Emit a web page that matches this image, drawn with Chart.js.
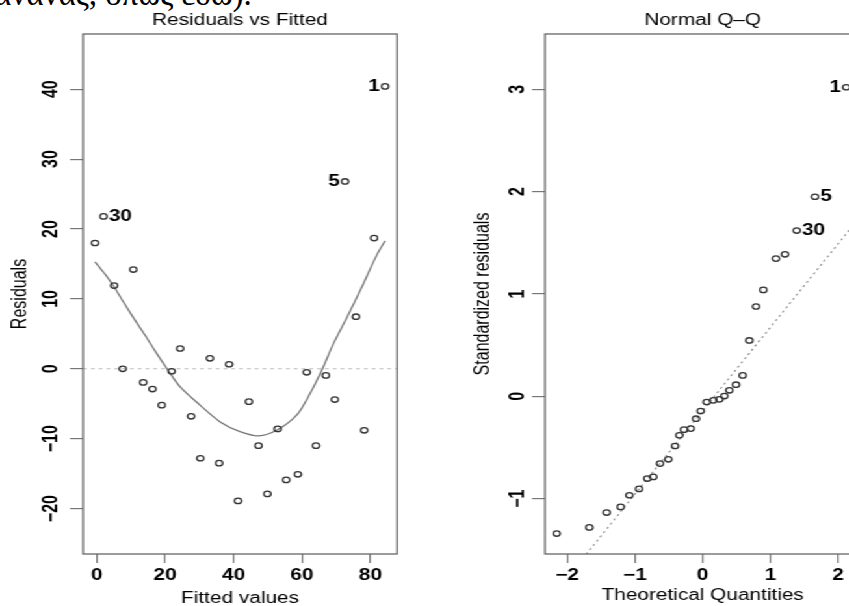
<!DOCTYPE html>
<html>
<head>
<meta charset="utf-8">
<script src="https://cdn.jsdelivr.net/npm/chart.js@4/dist/chart.umd.min.js"></script>
<style>
  html, body { margin: 0; padding: 0; background: #fff; }
  body { width: 849px; height: 606px; overflow: hidden; position: relative; }
  #caption {
    position: absolute; left: -6px; top: -22px;
    font: 33px/32px "Liberation Serif", "DejaVu Serif", serif; color: #000; white-space: nowrap;
  }
  /* the figure is printed wider than tall, so the whole plot is stretched sideways */
  #stage { position: absolute; left: 0; top: 0; width: 680px; height: 620px; transform: scaleX(1.3); transform-origin: 0 0; }
  #stage canvas { position: absolute; top: 0; }
</style>
</head>
<body>
<div id="caption">ανανας, όπως εδώ).</div>
<div id="stage">
  <canvas id="residChart" width="330" height="620" style="left:0"></canvas>
  <canvas id="qqChart" width="320" height="620" style="left:360px"></canvas>
</div>
<script>
// Residuals vs Fitted (sorted by fitted value)
const fittedValues = [-0.5, 2.0, 5.1, 7.6, 10.7, 13.6, 16.3, 19.0, 21.9, 24.4, 27.6, 30.3, 33.1, 35.8, 38.7, 41.3,
  44.5, 47.3, 49.9, 52.9, 55.4, 58.8, 61.4, 64.1, 67.0, 69.6, 72.6, 75.8, 78.2, 81.1, 84.3];
const residualValues = [18.0, 21.8, 11.9, 0.0, 14.2, -1.95, -2.9, -5.2, -0.35, 2.9, -6.8, -12.8, 1.5, -13.5, 0.65, -18.9,
  -4.7, -11.0, -17.9, -8.6, -15.9, -15.1, -0.5, -11.0, -0.95, -4.4, 26.8, 7.45, -8.8, 18.7, 40.4];
// smoother through the residuals
const smoothFitted = [-0.5, 2.5, 5.1, 8.0, 11.0, 14.0, 17.0, 20.5, 24.4, 30.2, 36.1, 41.9, 47.3, 52.6, 58.5, 62.4, 65.8,
  69.2, 73.1, 77.5, 81.9, 84.3];
const smoothResid = [15.3, 13.5, 11.7, 9.4, 7.1, 4.9, 2.6, 0.05, -2.6, -5.2, -7.6, -9.0, -9.6, -8.8, -6.6, -3.5, -0.2,
  3.6, 7.3, 11.7, 16.3, 18.3];
const residTagged = [[30, '1', 'left'], [26, '5', 'left'], [1, '30', 'right']];
const residTicksX = [0, 20, 40, 60, 80];
const residTicksY = [-20, -10, 0, 10, 20, 30, 40];
const residRangeX = [-4.0, 87.8];
const residRangeY = [-26.5, 47.9];

// Normal Q-Q
const theoreticalQ = [-2.157, -1.674, -1.418, -1.211, -1.083, -0.940, -0.817, -0.729, -0.630, -0.507, -0.409, -0.345,
  -0.276, -0.177, -0.098, -0.030, 0.059, 0.158, 0.246, 0.320, 0.394, 0.492, 0.591, 0.689, 0.788, 0.896, 1.083,
  1.216, 1.389, 1.659, 2.12];
const standardizedResid = [-1.34, -1.28, -1.135, -1.08, -0.966, -0.904, -0.803, -0.787, -0.657, -0.615, -0.485, -0.380,
  -0.325, -0.315, -0.218, -0.143, -0.055, -0.039, -0.029, 0.003, 0.059, 0.114, 0.205, 0.546, 0.878, 1.04, 1.346,
  1.388, 1.62, 1.95, 3.02];
const qqLineIntercept = -0.14;
const qqLineSlope = 0.815;
const qqTagged = [[30, '1', 'left'], [29, '5', 'right'], [28, '30', 'right']];
const qqTicksX = [-2, -1, 0, 1, 2];
const qqTicksY = [-1, 0, 1, 2, 3];
const qqRangeX = [-2.33, 2.33];
const qqRangeY = [-1.54, 3.54];

Chart.defaults.font.family = '"Liberation Sans", Arial, Helvetica, sans-serif';
Chart.defaults.color = '#000';

/**
 * Draws the frame around the plotting region
 */
const plotBox = {
    id: 'plotBox',
    afterDraw(chart) {
        const { ctx, chartArea: a } = chart;
        ctx.save();
        ctx.strokeStyle = '#666';
        ctx.lineWidth = 1.3;
        ctx.strokeRect(a.left, a.top, a.right - a.left, a.bottom - a.top);
        ctx.restore();
    }
};

/**
 * Writes observation numbers beside the flagged points
 */
function pointTags(tags) {
    return {
        id: 'pointTags',
        afterDatasetsDraw(chart) {
            const meta = chart.getDatasetMeta(0);
            const ctx = chart.ctx;
            ctx.save();
            ctx.font = 'bold 16px "Liberation Sans", Arial, sans-serif';
            ctx.fillStyle = '#000';
            ctx.textBaseline = 'middle';
            tags.forEach(([idx, text, side]) => {
                const el = meta.data[idx];
                ctx.textAlign = side === 'left' ? 'right' : 'left';
                ctx.fillText(text, el.x + (side === 'left' ? -4 : 4), el.y);
            });
            ctx.restore();
        }
    };
}

const minus = v => String(v).replace('-', '\u2212');

function axis(range, ticks, title, opts) {
    return {
        type: 'linear',
        min: range[0],
        max: range[1],
        afterBuildTicks: s => { s.ticks = ticks.map(v => ({ value: v })); },
        afterFit: s => {
            if (opts.width !== undefined) s.width = opts.width;
            if (opts.height !== undefined) s.height = opts.height;
        },
        border: { display: false },
        grid: { drawOnChartArea: false, drawTicks: true, tickLength: opts.tickLength, color: '#777', lineWidth: 1.2 },
        ticks: {
            autoSkip: false,
            font: { size: 16, weight: 'bold' },
            padding: opts.tickPad,
            minRotation: opts.rotate ? 90 : 0,
            maxRotation: opts.rotate ? 90 : 0,
            crossAlign: opts.rotate ? 'center' : 'near',
            callback: v => minus(v)
        },
        title: { display: true, text: title, font: { size: 16 }, padding: opts.titlePad }
    };
}

function pointSet(xs, ys) {
    return xs.map((x, i) => ({ x: x, y: ys[i] }));
}

function baseOptions(titleText, padRight, scales) {
    return {
        responsive: false,
        animation: false,
        events: [],
        layout: { padding: { left: 0, right: padRight, top: 0, bottom: 0 } },
        plugins: {
            legend: { display: false },
            tooltip: { enabled: false },
            title: {
                display: true, text: titleText, fullSize: false,
                font: { size: 16, weight: 'normal' }, color: '#000',
                padding: { top: 11.4, bottom: 3.4 }
            }
        },
        scales: scales
    };
}

// Residuals vs Fitted
new Chart(document.getElementById('residChart'), {
    type: 'scatter',
    data: {
        datasets: [
            {
                data: pointSet(fittedValues, residualValues),
                pointStyle: 'circle', pointRadius: 2.7, borderWidth: 1.3,
                borderColor: '#333', backgroundColor: 'rgba(0,0,0,0)'
            },
            {
                data: pointSet(smoothFitted, smoothResid),
                showLine: true, pointRadius: 0, borderColor: '#777', borderWidth: 1.3, tension: 0.3
            },
            {
                data: pointSet(residRangeX, [0, 0]),
                showLine: true, pointRadius: 0, borderColor: '#bbb', borderWidth: 1, borderDash: [3, 3]
            }
        ]
    },
    options: baseOptions('Residuals vs Fitted', 24.6, {
        x: axis(residRangeX, residTicksX, 'Fitted values',
            { height: 66, tickLength: 9, tickPad: 3.4, titlePad: { top: 0, bottom: 11.9 } }),
        y: axis(residRangeY, residTicksY, 'Residuals',
            { width: 63.85, tickLength: 10, tickPad: 0.5, rotate: true, titlePad: { top: 5.8, bottom: 0 } })
    }),
    plugins: [plotBox, pointTags(residTagged)]
});

// Normal Q-Q
new Chart(document.getElementById('qqChart'), {
    type: 'scatter',
    data: {
        datasets: [
            {
                data: pointSet(theoreticalQ, standardizedResid),
                pointStyle: 'circle', pointRadius: 2.7, borderWidth: 1.3,
                borderColor: '#333', backgroundColor: 'rgba(0,0,0,0)'
            },
            {
                data: pointSet(qqRangeX, qqRangeX.map(q => qqLineIntercept + qqLineSlope * q)),
                showLine: true, pointRadius: 0, borderColor: '#888', borderWidth: 1.1, borderDash: [2, 3]
            }
        ]
    },
    options: baseOptions('Normal Q\u2013Q', 18.1, {
        x: axis(qqRangeX, qqTicksX, 'Theoretical Quantities',
            { height: 66, tickLength: 9, tickPad: 3.4, titlePad: { top: 0, bottom: 14.4 } }),
        y: axis(qqRangeY, qqTicksY, 'Standardized residuals',
            { width: 59.2, tickLength: 10, tickPad: 1.6, rotate: true, titlePad: { top: 1.9, bottom: 0 } })
    }),
    plugins: [plotBox, pointTags(qqTagged)]
});
</script>
</body>
</html>
